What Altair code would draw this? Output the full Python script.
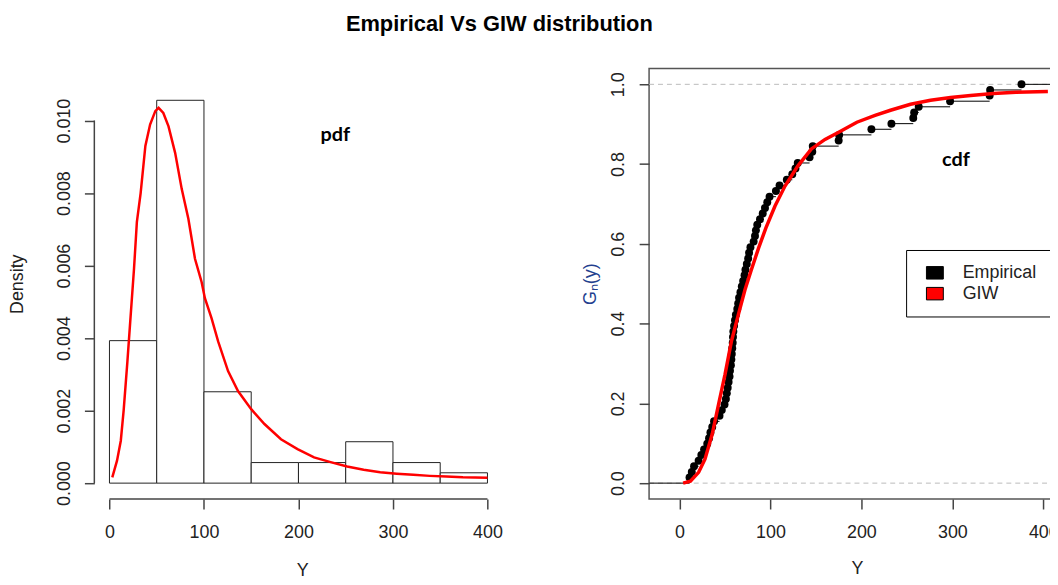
import altair as alt
import pandas as pd

# ---------------- data ----------------
# histogram (left panel)
bin_start = [0, 50, 100, 150, 200, 250, 300, 350]
bin_end = [50, 100, 150, 200, 250, 300, 350, 400]
density = [0.00393, 0.01056, 0.00252, 0.000567, 0.000567, 0.001142, 0.000567, 0.000285]

# fitted GIW density (red curve, left panel)
pdf_x = [3, 8, 12, 15, 19, 22, 26, 29, 33, 38, 43, 48.5, 52, 57, 62.5, 69.5, 76.5,
         83.5, 90.5, 97.5, 101, 108, 115, 125.5, 136, 150, 164, 181.5, 199, 216.5,
         234, 251.5, 269, 286.5, 304, 321.5, 339, 356.5, 374, 400]
pdf_y = [0.00016, 0.00062, 0.00117, 0.0020, 0.00336, 0.00446, 0.00592, 0.0072,
         0.0080, 0.0093, 0.00989, 0.01026, 0.01035, 0.01021, 0.00984, 0.00911,
         0.00811, 0.00729, 0.00619, 0.00555, 0.0051, 0.00455, 0.00391, 0.00309,
         0.00254, 0.00204, 0.00163, 0.00121, 0.00094, 0.00071, 0.00058, 0.00046,
         0.00037, 0.0003, 0.00026, 0.00023, 0.0002, 0.00018, 0.00016, 0.00015]

# sorted sample (empirical cdf, right panel)
emp_x = [11, 13.5, 16, 21, 24, 27, 30.5, 32.5, 34, 36, 38, 44, 46.5, 49.5,
         51, 52, 53, 54, 55, 55.5, 56.5, 57, 57.5, 58, 58.5, 58.8, 59.2, 60, 61,
         62, 63.5, 64.5, 65.5, 67, 68.5, 70, 71.5, 72.5, 74, 75.5, 76.5, 78, 81.5,
         83, 84, 85.5, 88.5, 91.5, 94, 96.5, 99,
         106, 110, 118, 124, 127.5, 130, 143, 146, 146.5,
         175, 175.5, 211, 233, 257, 258, 263, 297.5, 341, 341.5, 376]

# fitted GIW cdf (red curve, right panel)
cdf_x = [4, 12, 21, 28, 36, 43, 50, 57, 65, 72, 79, 87, 95, 105, 116, 130, 145,
         160, 175, 195, 215, 232, 254, 276, 298, 320, 345, 370, 405]
cdf_y = [0, 0.005, 0.027, 0.06, 0.123, 0.198, 0.272, 0.355, 0.425, 0.485, 0.535,
         0.59, 0.64, 0.695, 0.745, 0.795, 0.838, 0.862, 0.88, 0.905, 0.922, 0.935,
         0.95, 0.96, 0.967, 0.972, 0.977, 0.98, 0.982]

left_xticks = [0, 100, 200, 300, 400]
left_yticks = [0.000, 0.002, 0.004, 0.006, 0.008, 0.010]
right_xticks = [0, 100, 200, 300, 400]
right_yticks = [0.0, 0.2, 0.4, 0.6, 0.8, 1.0]
ref_lines = [0, 1]
series = ["Empirical", "GIW"]
series_colors = ["black", "red"]

annot_left = {"x": [239], "y": [0.0096], "t": ["pdf"]}
annot_right = {"x": [304], "y": [0.811], "t": ["cdf"]}

# ---------------- layout constants ----------------
W, H = 419, 434
FONT = "Liberation Sans"
AX = "#444444"
TXT = "#222222"

lx_dom = [-16, 424]
ly_dom = [-0.00044, 0.01144]
rx_dom = [-33.45, 423.7]
ry_dom = [-0.04, 1.04]

# ---------------- left panel ----------------
hist_df = pd.DataFrame({"x": bin_start, "x2": bin_end, "y": density})
pdf_df = pd.DataFrame({"x": pdf_x, "y": pdf_y})

lx = alt.Scale(domain=lx_dom, nice=False, zero=False)
ly = alt.Scale(domain=ly_dom, nice=False, zero=False)
lx_ax = alt.Axis(values=left_xticks, title="Y", format="d", labelPadding=15, titlePadding=20)
ly_ax = alt.Axis(values=left_yticks, title="Density", format=".3f",
                 labelAngle=270, labelPadding=11, titlePadding=29)

bars = alt.Chart(hist_df).mark_rect(fill="white", stroke="#222222", strokeWidth=1).encode(
    x=alt.X("x:Q", scale=lx, axis=lx_ax),
    x2="x2:Q",
    y=alt.Y("y:Q", scale=ly, axis=ly_ax),
    y2=alt.datum(0),
)
pdf_line = alt.Chart(pdf_df).mark_line(color="red", strokeWidth=2.5).encode(
    x=alt.X("x:Q", scale=lx, axis=lx_ax), y=alt.Y("y:Q", scale=ly, axis=ly_ax)
)
ly_axis = alt.Chart(pd.DataFrame({"lo": [min(left_yticks)], "hi": [max(left_yticks)]})).mark_rule(
    color=AX, strokeWidth=1.5).encode(
    x=alt.value(0), y=alt.Y("lo:Q", scale=ly, axis=ly_ax), y2="hi:Q")
lx_axis = alt.Chart(pd.DataFrame({"lo": [min(left_xticks)], "hi": [max(left_xticks)]})).mark_rule(
    color=AX, strokeWidth=1.5).encode(
    y=alt.value(H), x=alt.X("lo:Q", scale=lx, axis=lx_ax), x2="hi:Q")
pdf_txt = alt.Chart(pd.DataFrame(annot_left)).mark_text(
    font="Lato", fontSize=20, fontWeight="bold", color="black", baseline="middle").encode(
    x=alt.X("x:Q", scale=lx, axis=lx_ax), y=alt.Y("y:Q", scale=ly, axis=ly_ax), text="t:N")

left = alt.layer(bars, pdf_line, ly_axis, lx_axis, pdf_txt).properties(
    width=W, height=H, view=alt.ViewBackground(stroke=None))

# ---------------- right panel ----------------
n = len(emp_x)
emp_df = pd.DataFrame({"x": emp_x, "y": [(i + 1) / n for i in range(n)],
                       "series": ["Empirical"] * n})
seg_df = pd.DataFrame({"x": [rx_dom[0]] + emp_x, "x2": emp_x + [rx_dom[1]],
                       "y": [0.0] + [(i + 1) / n for i in range(n)]})
cdf_df = pd.DataFrame({"x": cdf_x, "y": cdf_y})

rx = alt.Scale(domain=rx_dom, nice=False, zero=False)
ry = alt.Scale(domain=ry_dom, nice=False, zero=False)
rx_ax = alt.Axis(values=right_xticks, title="Y", format="d", labelPadding=15, titlePadding=18)
ry_ax = alt.Axis(values=right_yticks, title="Gₙ(y)", format=".1f", labelAngle=270,
                 labelPadding=12, titlePadding=10, titleColor="#23408e")

hlines = alt.Chart(pd.DataFrame({"y": ref_lines})).mark_rule(
    color="#bbbbbb", strokeDash=[5, 4], strokeWidth=1).encode(
    y=alt.Y("y:Q", scale=ry, axis=ry_ax))
steps = alt.Chart(seg_df).mark_rule(color="black", strokeWidth=1).encode(
    x=alt.X("x:Q", scale=rx, axis=rx_ax),
    x2="x2:Q",
    y=alt.Y("y:Q", scale=ry, axis=ry_ax))
pts = alt.Chart(emp_df).mark_circle(size=64, opacity=1).encode(
    x=alt.X("x:Q", scale=rx, axis=rx_ax),
    y=alt.Y("y:Q", scale=ry, axis=ry_ax),
    color=alt.Color("series:N", scale=alt.Scale(domain=series, range=series_colors),
                    legend=alt.Legend(
                        title=None, orient="none", legendX=818, legendY=183,
                        direction="vertical",
                        symbolType="M-1,-0.74L1,-0.74L1,0.74L-1,0.74Z", symbolSize=289,
                        labelFont=FONT, labelFontSize=18, labelColor=TXT,
                        labelOffset=19, symbolOffset=6, padding=14, rowPadding=3,
                        strokeColor="black", fillColor="white", cornerRadius=0,
                        symbolStrokeColor="black", symbolStrokeWidth=1, symbolOpacity=1,
                        labelExpr="datum.label + '\u00a0\u00a0\u00a0\u00a0'")))
cdf_line = alt.Chart(cdf_df).mark_line(color="red", strokeWidth=3.5).encode(
    x=alt.X("x:Q", scale=rx, axis=rx_ax), y=alt.Y("y:Q", scale=ry, axis=ry_ax))
cdf_txt = alt.Chart(pd.DataFrame(annot_right)).mark_text(
    font="Lato", fontSize=20, fontWeight="bold", color="black", baseline="middle").encode(
    x=alt.X("x:Q", scale=rx, axis=rx_ax), y=alt.Y("y:Q", scale=ry, axis=ry_ax), text="t:N")

right = alt.layer(hlines, steps, pts, cdf_line, cdf_txt).properties(
    width=W, height=H, view=alt.ViewBackground(stroke="#555555", strokeWidth=1.5))

# The reference is cropped at its right edge: draw at full size and let the
# fixed-size SVG (autosize none, 1050 x 569 px) clip what lies beyond.
PAD_L, PAD_T = 87, 57
chart = alt.hconcat(left, right, spacing=71).properties(
    title=alt.TitleParams("Empirical Vs GIW distribution", font=FONT, fontSize=22,
                          fontWeight="bold", color="black", anchor="start", dx=339.5,
                          offset=31.5),
    autosize=alt.AutoSizeParams(type="none"),
    padding={"left": PAD_L, "top": PAD_T, "right": 1050 - PAD_L, "bottom": 569 - PAD_T},
).configure_axis(
    labelFont=FONT, labelFontSize=18, labelColor=TXT,
    titleFont=FONT, titleFontSize=18, titleFontWeight="normal", titleColor=TXT,
    tickColor=AX, tickWidth=1.5, tickSize=10, domain=False, grid=False,
).configure_view(stroke=None)

chart.save("out.html", embed_options={"renderer": "svg", "actions": False})
